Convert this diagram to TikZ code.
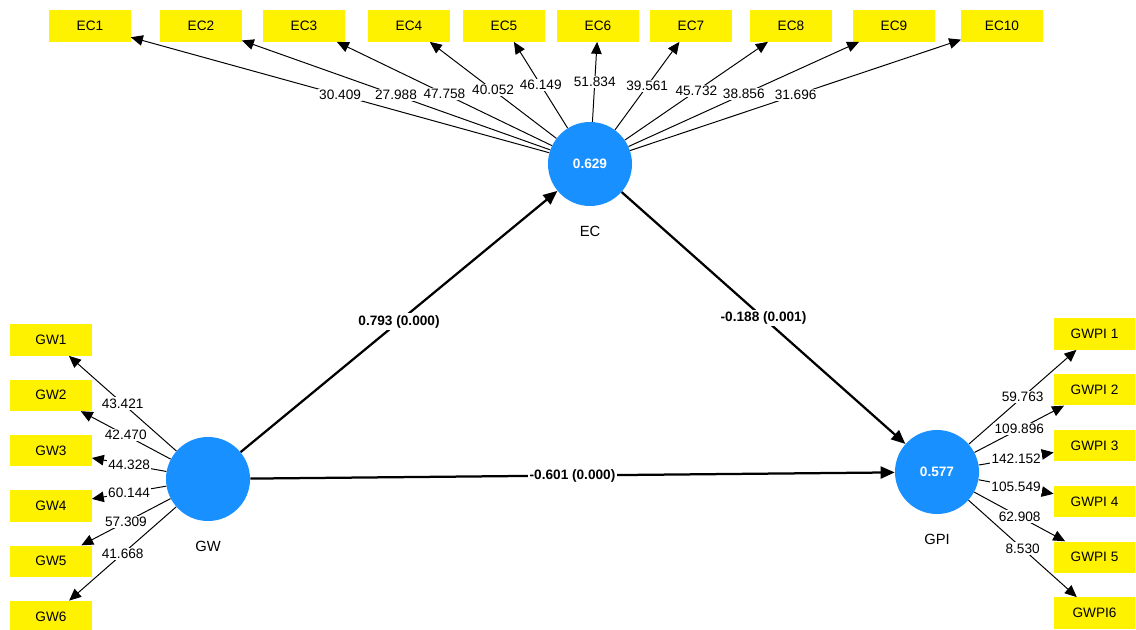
\documentclass[tikz,border=0pt]{standalone}
\usepackage{fontspec}
\setmainfont{Liberation Sans}
\usetikzlibrary{arrows.meta,positioning}
\definecolor{lvblue}{RGB}{24,144,255}
\tikzset{
  lv/.style={circle,fill=lvblue,minimum size=2.1cm,inner sep=0pt,text=white,
    font=\fontsize{9.7}{11}\selectfont\bfseries},
  mv/.style={rectangle,fill=yellow,minimum width=2.03cm,minimum height=0.78cm,
    inner sep=0pt,font=\fontsize{9.7}{11}\selectfont},
  lvname/.style={inner sep=0pt,font=\fontsize{10.5}{12}\selectfont},
  loading/.style={-{Triangle[length=8.5pt,width=7.5pt]},line width=0.7pt},
  structural/.style={-{Triangle[length=10pt,width=8.5pt]},line width=1.6pt},
  wt/.style={fill=white,inner sep=1pt,font=\fontsize{9.7}{11}\selectfont},
  coef/.style={fill=white,inner sep=1.5pt,font=\fontsize{9.7}{11}\selectfont\bfseries}
}
\begin{document}
\begin{tikzpicture}[x=0.025cm,y=-0.025cm]
  \useasboundingbox (0,0) rectangle (1136,630);

  \node[lv] (EC) at (590,164) {0.629};
  \node[lv] (GW) at (208,479) {};
  \node[lv] (GPI) at (937,472) {0.577};
  \node[lvname,below=0.5cm of EC] (ECname) {EC};
  \node[lvname,below=0.5cm of GW] (GWname) {GW};
  \node[lvname,below=0.5cm of GPI] (GPIname) {GPI};

  \foreach \i/\x in {1/90,2/201,3/304,4/409,5/504,6/598,7/691,8/791,9/894,10/1002}
    \node[mv] (EC\i) at (\x,26) {EC\i};
  \foreach \i in {1,...,6}
    \node[mv] (GW\i) at (51,{340+55.3*(\i-1)}) {GW\i};
  \foreach \i/\t in {1/GWPI 1,2/GWPI 2,3/GWPI 3,4/GWPI 4,5/GWPI 5,6/GWPI6}
    \node[mv] (GWPI\i) at (1094.5,{334+55.8*(\i-1)}) {\t};

  \foreach \i in {1,...,10}
    \draw[loading] (EC) -- (EC\i);
  \foreach \i in {1,...,6} {
    \draw[loading] (GW) -- (GW\i);
    \draw[loading] (GPI) -- (GWPI\i);
  }

  \foreach \i/\v in {1/30.409,2/27.988,3/47.758,4/40.052,5/46.149,6/51.834,
                     7/39.561,8/45.732,9/38.856,10/31.696}
    \path (EC) -- node[wt] {\v} (EC\i);
  \foreach \i/\v in {1/43.421,2/42.470,3/44.328,4/60.144,5/57.309,6/41.668}
    \path (GW) -- node[wt] {\v} (GW\i);
  \foreach \i/\v in {1/59.763,2/109.896,3/142.152,4/105.549,5/62.908,6/8.530}
    \path (GPI) -- node[wt] {\v} (GWPI\i);

  \draw[structural] (GW) -- node[coef] {0.793 (0.000)} (EC);
  \draw[structural] (EC) -- node[coef] {-0.188 (0.001)} (GPI);
  \draw[structural] (GW) -- node[coef] {-0.601 (0.000)} (GPI);
\end{tikzpicture}
\end{document}
